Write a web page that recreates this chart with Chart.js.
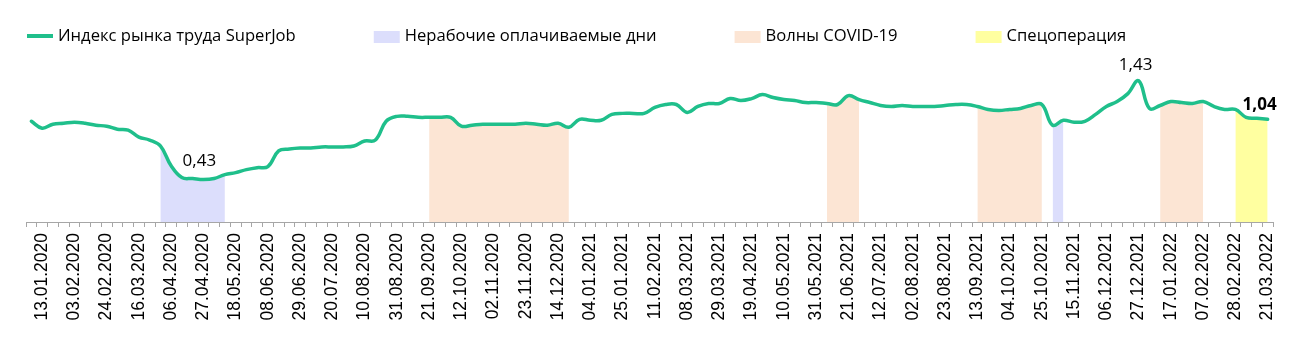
<!DOCTYPE html>
<html lang="ru">
<head>
<meta charset="utf-8">
<title>Индекс рынка труда SuperJob</title>
<script src="https://cdn.jsdelivr.net/npm/chart.js@4.4.1/dist/chart.umd.min.js"></script>
<style>
  html, body { margin: 0; padding: 0; background: #fff; }
  #wrap { position: relative; width: 1300px; height: 358px; }
</style>
</head>
<body>
<div id="wrap"><canvas id="chart"></canvas></div>
<script>
// недели (понедельники)
const weeks = [
  '06.01.2020','13.01.2020','20.01.2020','27.01.2020','03.02.2020','10.02.2020','17.02.2020','24.02.2020',
  '02.03.2020','09.03.2020','16.03.2020','23.03.2020','30.03.2020','06.04.2020','13.04.2020','20.04.2020',
  '27.04.2020','04.05.2020','11.05.2020','18.05.2020','25.05.2020','01.06.2020','08.06.2020','15.06.2020',
  '22.06.2020','29.06.2020','06.07.2020','13.07.2020','20.07.2020','27.07.2020','03.08.2020','10.08.2020',
  '17.08.2020','24.08.2020','31.08.2020','07.09.2020','14.09.2020','21.09.2020','28.09.2020','05.10.2020',
  '12.10.2020','19.10.2020','26.10.2020','02.11.2020','09.11.2020','16.11.2020','23.11.2020','30.11.2020',
  '07.12.2020','14.12.2020','21.12.2020','28.12.2020','04.01.2021','11.01.2021','18.01.2021','25.01.2021',
  '01.02.2021','08.02.2021','11.02.2021','22.02.2021','01.03.2021','08.03.2021','15.03.2021','22.03.2021',
  '29.03.2021','05.04.2021','12.04.2021','19.04.2021','26.04.2021','03.05.2021','10.05.2021','17.05.2021',
  '24.05.2021','31.05.2021','07.06.2021','14.06.2021','21.06.2021','28.06.2021','05.07.2021','12.07.2021',
  '19.07.2021','26.07.2021','02.08.2021','09.08.2021','16.08.2021','23.08.2021','30.08.2021','06.09.2021',
  '13.09.2021','20.09.2021','27.09.2021','04.10.2021','11.10.2021','18.10.2021','25.10.2021','01.11.2021',
  '08.11.2021','15.11.2021','22.11.2021','29.11.2021','06.12.2021','13.12.2021','20.12.2021','27.12.2021',
  '03.01.2022','10.01.2022','17.01.2022','24.01.2022','31.01.2022','07.02.2022','14.02.2022','21.02.2022',
  '28.02.2022','07.03.2022','14.03.2022','21.03.2022'
];

// Индекс рынка труда SuperJob
const indexValues = [
  1.02, 0.95, 0.99, 1.00, 1.01, 1.00, 0.98, 0.97, 0.94, 0.93,
  0.86, 0.83, 0.77, 0.57, 0.45, 0.44, 0.43, 0.44, 0.48, 0.50,
  0.53, 0.55, 0.56, 0.72, 0.74, 0.75, 0.75, 0.76, 0.76, 0.76,
  0.77, 0.82, 0.83, 1.02, 1.07, 1.07, 1.06, 1.06, 1.06, 1.06,
  0.97, 0.98, 0.99, 0.99, 0.99, 0.99, 1.00, 0.99, 0.98, 1.00,
  0.96, 1.04, 1.03, 1.03, 1.09, 1.10, 1.10, 1.10, 1.16, 1.19,
  1.19, 1.11, 1.17, 1.20, 1.20, 1.25, 1.23, 1.25, 1.29, 1.26,
  1.24, 1.23, 1.21, 1.21, 1.20, 1.19, 1.28, 1.24, 1.21, 1.18,
  1.17, 1.18, 1.17, 1.17, 1.17, 1.18, 1.19, 1.19, 1.17, 1.14,
  1.13, 1.14, 1.15, 1.18, 1.19, 0.98, 1.03, 1.01, 1.02, 1.09,
  1.17, 1.22, 1.30, 1.43, 1.15, 1.18, 1.22, 1.21, 1.20, 1.22,
  1.17, 1.14, 1.14, 1.06, 1.05, 1.04
];

// периоды (первая и последняя неделя)
const nonWorkingDays = [['30.03.2020', '11.05.2020'], ['01.11.2021', '08.11.2021']];
const covidWaves = [['21.09.2020', '21.12.2020'], ['07.06.2021', '28.06.2021'],
                    ['13.09.2021', '25.10.2021'], ['10.01.2022', '07.02.2022']];
const specialOperation = [['28.02.2022', '21.03.2022']];

// подписанные точки
const labelledWeeks = ['27.04.2020', '27.12.2021', '21.03.2022'];

const colors = {
  line: '#1fbf8b',
  nonWorking: '#dcdefc',
  covid: '#fce5d4',
  special: '#ffffa0',
  axis: '#a6a6a6'
};

function periodSeries(periods) {
  return weeks.map((w, i) => {
    const inside = periods.some(([a, b]) => i >= weeks.indexOf(a) && i <= weeks.indexOf(b));
    return inside ? indexValues[i] : null;
  });
}

function areaDataset(label, periods, color) {
  return {
    label: label,
    data: periodSeries(periods),
    borderWidth: 0,
    backgroundColor: color,
    fill: 'origin',
    pointRadius: 0,
    tension: 0.4,
    order: 2
  };
}

// легенда строкой сверху
const topLegend = {
  id: 'topLegend',
  afterDraw(chart) {
    const ctx = chart.ctx;
    const y = 36;
    let x = 27;
    ctx.save();
    ctx.font = '16.6px "Open Sans"';
    ctx.textBaseline = 'middle';
    ctx.fillStyle = '#000';
    chart.data.datasets.forEach(ds => {
      if (ds.order === 0) {
        ctx.strokeStyle = ds.borderColor;
        ctx.lineWidth = 4;
        ctx.beginPath();
        ctx.moveTo(x, y);
        ctx.lineTo(x + 26, y);
        ctx.stroke();
      } else {
        ctx.fillStyle = ds.backgroundColor;
        ctx.fillRect(x, y - 5, 26, 12);
      }
      ctx.fillStyle = '#000';
      ctx.fillText(ds.label, x + 31, y);
      x += 31 + ctx.measureText(ds.label).width + 78;
    });
    ctx.restore();
  }
};

// подписи значений
const valueLabels = {
  id: 'valueLabels',
  afterDatasetsDraw(chart) {
    const ctx = chart.ctx;
    const meta = chart.getDatasetMeta(0);
    const shifts = [[-4, -18], [-3, -16], [-8, -14]];
    ctx.save();
    ctx.textAlign = 'center';
    ctx.textBaseline = 'middle';
    ctx.fillStyle = '#000';
    labelledWeeks.forEach((w, k) => {
      const i = weeks.indexOf(w);
      const p = meta.data[i];
      ctx.font = (k === labelledWeeks.length - 1 ? 'bold ' : '') + '17px "Open Sans"';
      const text = indexValues[i].toFixed(2).replace('.', ',');
      ctx.fillText(text, p.x + shifts[k][0], p.y + shifts[k][1]);
    });
    ctx.restore();
  }
};

new Chart(document.getElementById('chart'), {
  type: 'line',
  data: {
    labels: weeks,
    datasets: [
      {
        label: 'Индекс рынка труда SuperJob',
        data: indexValues,
        borderColor: colors.line,
        borderWidth: 3.5,
        pointRadius: 0,
        tension: 0.4,
        fill: false,
        borderCapStyle: 'round',
        borderJoinStyle: 'round',
        order: 0
      },
      areaDataset('Нерабочие оплачиваемые дни', nonWorkingDays, colors.nonWorking),
      areaDataset('Волны COVID-19', covidWaves, colors.covid),
      areaDataset('Спецоперация', specialOperation, colors.special)
    ]
  },
  options: {
    responsive: true,
    maintainAspectRatio: false,
    animation: false,
    layout: { padding: { top: 64, left: 26, right: 27, bottom: 0 } },
    plugins: {
      legend: { display: false },
      tooltip: { enabled: false }
    },
    scales: {
      x: {
        offset: true,
        grid: {
          offset: true,
          drawOnChartArea: false,
          tickLength: 5,
          color: colors.axis
        },
        border: { display: true, color: colors.axis, width: 1 },
        ticks: {
          autoSkip: false,
          minRotation: 90,
          maxRotation: 90,
          padding: 6,
          color: '#000',
          font: { family: '"Liberation Sans", Arial', size: 17.5 },
          callback: function (val, i) {
            return (i - 1) % 3 === 0 ? this.getLabelForValue(val) : '';
          }
        },
        afterFit(scale) { scale.height = 136; }
      },
      y: {
        display: false,
        min: 0,
        max: 1.6
      }
    }
  },
  plugins: [topLegend, valueLabels]
});
</script>
</body>
</html>
